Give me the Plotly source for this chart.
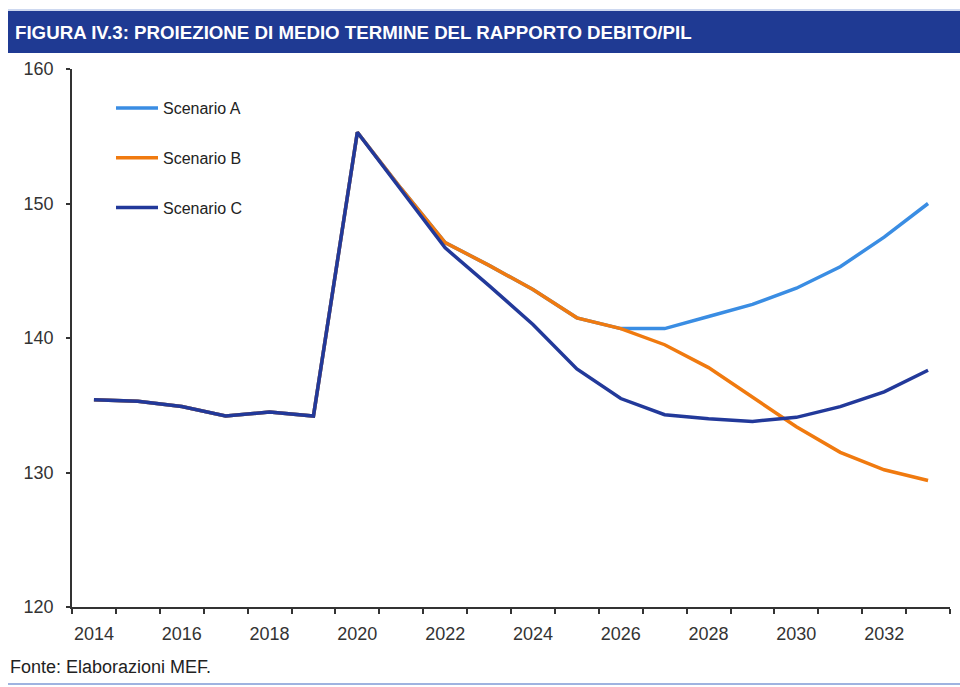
import plotly.graph_objects as go

years = list(range(2014, 2034))
scenario_a = [135.4, 135.3, 134.9, 134.2, 134.5, 134.2, 155.3, 151.1, 147.1, 145.4,
              143.6, 141.5, 140.7, 140.7, 141.6, 142.5, 143.7, 145.3, 147.5, 150.0]
scenario_b = [135.4, 135.3, 134.9, 134.2, 134.5, 134.2, 155.3, 151.1, 147.1, 145.4,
              143.6, 141.5, 140.7, 139.5, 137.8, 135.6, 133.4, 131.5, 130.2, 129.4]
scenario_c = [135.4, 135.3, 134.9, 134.2, 134.5, 134.2, 155.3, 151.0, 146.7, 143.9,
              141.0, 137.7, 135.5, 134.3, 134.0, 133.8, 134.1, 134.9, 136.0, 137.6]
series_names = ["Scenario A", "Scenario B", "Scenario C"]
series_colors = ["#3A8DE3", "#F07A0F", "#22399A"]
x_tick_labels = [str(y) for y in range(2014, 2033, 2)]
y_ticks = [120, 130, 140, 150, 160]

title_text = "FIGURA IV.3: PROIEZIONE DI MEDIO TERMINE DEL RAPPORTO DEBITO/PIL"
source_text = "Fonte: Elaborazioni MEF."

FONT = "Liberation Sans, Arial, sans-serif"
L, R, T, B = 72, 10, 69, 80
PW, PH = 960 - L - R, 687 - T - B


def px_x(x):
    return (x - L) / PW


def px_y(y):
    return (687 - B - y) / PH


fig = go.Figure()
for i, (name, vals, col) in enumerate(zip(series_names, [scenario_a, scenario_b, scenario_c], series_colors)):
    fig.add_trace(go.Scatter(
        x=years, y=vals, mode="lines", name=name, legendgroup=f"g{i}",
        line=dict(color=col, width=3.5),
    ))

fig.update_layout(
    width=960, height=687,
    paper_bgcolor="white", plot_bgcolor="white",
    margin=dict(l=L, r=R, t=T, b=B, autoexpand=False),
    font=dict(family=FONT, size=17, color="#333333"),
    showlegend=True,
    legend=dict(
        x=px_x(111), y=px_y(91), xanchor="left", yanchor="top",
        bgcolor="rgba(0,0,0,0)", traceorder="grouped", tracegroupgap=26,
        font=dict(family=FONT, size=16, color="#222222"),
        itemwidth=42,
    ),
    xaxis=dict(
        range=[2013.5, 2033.5], showgrid=False, zeroline=False,
        showline=True, linecolor="#333333", linewidth=1.5,
        tickmode="array", tickvals=list(range(2014, 2033, 2)), ticktext=x_tick_labels,
        ticks="", ticklabelstandoff=10,
        tickfont=dict(family=FONT, size=18, color="#333333"),
        minor=dict(tickmode="array", tickvals=[y + 0.5 for y in range(2013, 2034)],
                   ticks="outside", ticklen=5, tickcolor="#333333", tickwidth=1.5),
    ),
    yaxis=dict(
        range=[120, 160], showgrid=False, zeroline=False,
        showline=True, linecolor="#333333", linewidth=1.5,
        tickmode="array", tickvals=y_ticks,
        ticks="outside", ticklen=4, tickcolor="#333333", tickwidth=1.5,
        ticklabelstandoff=9,
        tickfont=dict(family=FONT, size=18, color="#333333"),
    ),
)

# title bar
fig.add_shape(type="rect", xref="paper", yref="paper",
              x0=px_x(8), x1=px_x(960), y0=px_y(53), y1=px_y(11),
              fillcolor="#1F3A93", line=dict(width=0), layer="below")
fig.add_shape(type="line", xref="paper", yref="paper",
              x0=px_x(8), x1=px_x(960), y0=px_y(10), y1=px_y(10),
              line=dict(color="#9AB0E0", width=1))
fig.add_annotation(text=f"<b>{title_text}</b>", xref="paper", yref="paper",
                   x=px_x(13), y=px_y(32), xanchor="left", yanchor="middle",
                   showarrow=False, font=dict(family=FONT, size=18.7, color="white"))
# footer
fig.add_annotation(text=source_text, xref="paper", yref="paper",
                   x=px_x(8), y=px_y(667), xanchor="left", yanchor="middle",
                   showarrow=False, font=dict(family=FONT, size=18, color="#222222"))
fig.add_shape(type="line", xref="paper", yref="paper",
              x0=px_x(8), x1=px_x(960), y0=px_y(684), y1=px_y(684),
              line=dict(color="#7F9AD6", width=1.5))

fig.write_html("out.html", config={"displayModeBar": False},
               post_script="document.body.style.margin='0';")
